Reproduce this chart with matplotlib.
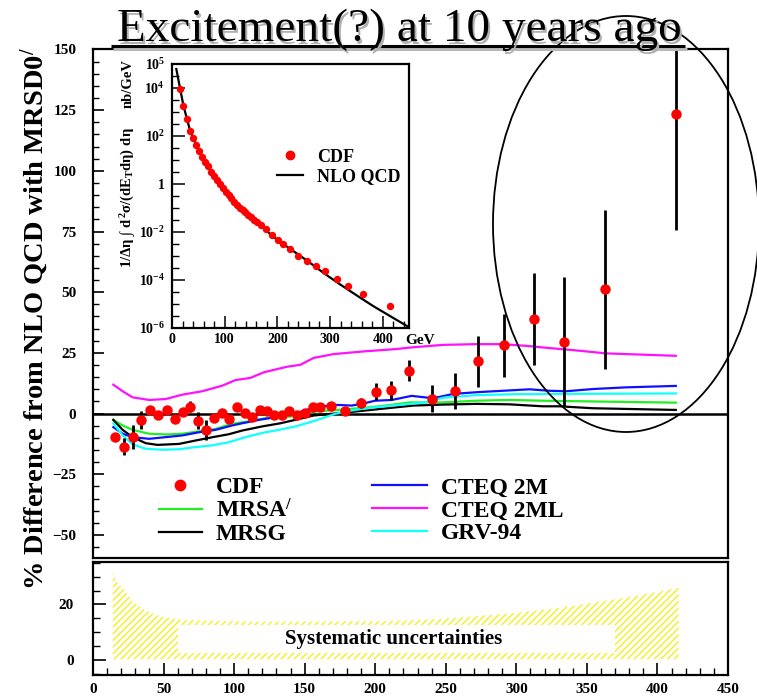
import numpy as np
import matplotlib.pyplot as plt
from matplotlib.patches import Ellipse, Rectangle
from matplotlib.ticker import MultipleLocator, FixedLocator, NullFormatter

plt.rcParams['font.family'] = ['Liberation Serif', 'DejaVu Serif']
plt.rcParams['font.weight'] = 'bold'
plt.rcParams['mathtext.fontset'] = 'custom'
plt.rcParams['mathtext.rm'] = 'Liberation Serif:bold'
plt.rcParams['mathtext.it'] = 'Liberation Serif:bold'
plt.rcParams['mathtext.bf'] = 'Liberation Serif:bold'

# CDF inclusive jet data: E_T (GeV), % difference from NLO QCD, stat. error
et = [15.5, 21.7, 28.0, 34.3, 40.4, 46.1, 52.1, 57.9, 63.6, 68.9, 74.7, 80.0,
      85.5, 91.1, 96.6, 101.9, 107.4, 112.5, 118.0, 123.3, 128.5, 133.9, 139.1,
      144.5, 149.9, 155.6, 161.0, 168.5, 178.6, 189.7, 200.5, 211.1, 224.0,
      240.1, 256.8, 272.8, 291.2, 312.6, 334.0, 362.8, 413.3]
diff = [-9.6, -13.6, -9.7, -2.6, 1.5, -0.5, 1.5, -2.2, 0.8, 2.9, -2.9, -6.7,
        -1.9, 0.1, -2.2, 2.6, 0.1, -1.5, 1.6, 1.0, -0.4, -0.4, 1.0,
        -0.4, 0.1, 2.9, 2.9, 3.0, 1.2, 4.4, 9.0, 9.6, 17.7,
        6.2, 9.4, 21.5, 28.2, 39.1, 29.6, 51.2, 123.5]
err = [1.5, 3.4, 5.0, 3.6, 1.0, 1.0, 1.0, 1.0, 1.2, 2.4, 3.4, 4.1,
       1.0, 1.0, 1.0, 1.0, 1.0, 1.0, 1.2, 1.2, 1.2, 1.2, 1.2,
       1.2, 1.2, 1.5, 1.5, 1.5, 1.5, 2.0, 3.4, 4.0, 4.2,
       5.7, 7.4, 10.5, 13.0, 19.0, 26.5, 32.7, 48.0]

# theory curves, % difference from MRSD0'
mrsa_x = [14.4, 21, 28, 39.8, 51.6, 63.3, 75.1, 86.9, 98.6, 110.4, 122.2, 140,
          157, 180, 203, 224.6, 248, 271.7, 295.2, 318.7, 342.3, 413]
mrsa_y = [-2.6, -4.9, -6.7, -8.3, -8.6, -8.3, -7.3, -6.3, -4.2, -3.2, -1.9, -1.2,
          0.8, 1.8, 3.0, 4.6, 4.6, 5.3, 5.6, 5.3, 5.1, 4.5]
mrsg_x = [14.4, 21, 28, 37.4, 45.7, 60.9, 72.7, 85, 96.3, 105.7, 119.8, 132.8,
          144, 156.3, 179.9, 203.4, 226.9, 248, 271.7, 295.2, 318.7, 330.5, 354, 413]
mrsg_y = [-2.6, -6.7, -9.7, -12.2, -12.9, -12.5, -11.1, -9.7, -8.5, -7.0, -5.3, -4.0,
          -2.5, -0.8, 0.5, 1.9, 3.3, 3.7, 4.0, 3.8, 3.0, 3.0, 2.2, 1.5]
cteq2m_x = [14.4, 21, 28, 39.8, 51.6, 63.3, 75.1, 86.9, 98.6, 105.7, 117.5, 129.2,
            143.4, 157.5, 171.6, 183.4, 190.5, 199.9, 211.7, 225.8, 241, 255.2,
            271.7, 290.5, 309.3, 323.4, 335.2, 354, 377.6, 413]
cteq2m_y = [-5.6, -8.3, -9.7, -10.4, -9.7, -9.0, -7.7, -6.7, -4.9, -4.0, -2.6, -1.5,
            0.1, 2.6, 3.6, 3.3, 4.0, 5.3, 5.6, 7.3, 6.3, 8.1,
            8.8, 9.4, 10.0, 9.4, 9.2, 10.1, 10.8, 11.4]
cteq2ml_x = [14.4, 21, 28, 39.8, 51.6, 63.3, 77.4, 91.6, 101, 111.6, 121, 137.5,
             146.9, 156.3, 170.4, 191.6, 215.2, 224.6, 248, 271.7, 290, 307,
             323.4, 344.6, 363.5, 413]
cteq2ml_y = [11.9, 9.2, 6.7, 5.6, 6.0, 7.8, 9.2, 11.5, 13.8, 14.7, 17.0, 19.3,
             20.1, 22.9, 24.5, 25.6, 26.6, 27.2, 28.3, 28.6, 28.6, 27.9,
             27.0, 25.9, 24.8, 23.8]
grv_x = [14.4, 21, 28, 37.4, 49.2, 60.9, 72.7, 84.5, 96.3, 108, 122.2, 129.2,
         143.4, 157.5, 171.6, 185.7, 199.9, 214, 235.2, 248, 271.7, 300, 330, 413]
grv_y = [-4.0, -9.0, -12.7, -14.5, -14.9, -14.7, -13.8, -13.1, -11.8, -9.7, -7.7, -7.0,
         -5.3, -2.9, -0.1, 1.5, 2.6, 3.4, 4.6, 6.5, 7.6, 8.0, 8.1, 8.3]

# inset: cross section (nb/GeV), log10 values
cdf_xs_log = [3.95, 3.27, 2.70, 2.22, 1.90, 1.62, 1.38, 1.14, 0.92, 0.73, 0.52, 0.35,
              0.18, 0.00, -0.18, -0.33, -0.47, -0.60, -0.73, -0.86, -0.98, -1.08, -1.18,
              -1.28, -1.38, -1.48, -1.58, -1.72, -1.88, -2.13, -2.33, -2.50, -2.69,
              -2.99, -3.22, -3.42, -3.64, -3.94, -4.26, -4.57, -5.10]
nlo_x = [8.2, 15.8, 22, 34.8, 47.5, 66.5, 85.4, 98, 129.7, 161.4, 193, 224.7,
         256.3, 288, 319.6, 351.3, 383, 414.6, 449.4]
nlo_log = [4.79, 3.93, 3.24, 2.19, 1.57, 0.81, 0.18, -0.24, -1.0, -1.6, -2.21, -2.71,
           -3.19, -3.71, -4.19, -4.65, -5.1, -5.51, -5.96]

# systematic uncertainty band (upper edge, %)
sys_x = [14, 17, 21.5, 28, 36.8, 45, 52, 64.4, 113.5, 205, 240, 267, 300, 328,
         350, 374, 400, 415]
sys_y = [31.7, 28, 25.7, 21, 18, 16.2, 15.3, 14.4, 13.8, 14, 14.6, 15.6, 17, 18.6,
         20.3, 22.2, 24.5, 26.1]

W, H = 757, 698
fig = plt.figure(figsize=(W / 100, H / 100), dpi=100)

def frac(left, top, right, bottom):
    return [left / W, 1 - bottom / H, (right - left) / W, (bottom - top) / H]

# ---- main panel ----
ax = fig.add_axes(frac(93, 49, 728, 558))
ax.set_xlim(0, 450)
ax.set_ylim(-59.5, 150.2)
ax.axhline(0, color='black', lw=1.8, zorder=2)
curves = [(mrsa_x, mrsa_y, '#22ee22', "MRSA$^{/}$"),
          (mrsg_x, mrsg_y, 'black', 'MRSG'),
          (cteq2m_x, cteq2m_y, '#1010ff', 'CTEQ 2M'),
          (cteq2ml_x, cteq2ml_y, '#ff10ff', 'CTEQ 2ML'),
          (grv_x, grv_y, '#10ffff', 'GRV-94')]
lines = {}
for cx, cy, col, lab in curves:
    lines[lab], = ax.plot(cx, cy, color=col, lw=1.6, zorder=3)
ax.errorbar(et, diff, yerr=err, fmt='none', ecolor='black', elinewidth=2.0,
            capsize=0, zorder=4)
pts, = ax.plot(et, diff, 'o', color='#ff0000', ms=6.5, mec='#ff0000', zorder=5)

ax.set_xticks([])
ax.yaxis.set_major_locator(MultipleLocator(25))
ax.yaxis.set_minor_locator(MultipleLocator(5))
ax.tick_params(axis='y', which='major', direction='in', length=8, width=1.2,
               labelsize=11, pad=12)
ax.tick_params(axis='y', which='minor', direction='in', length=4, width=1.0)
for s in ax.spines.values():
    s.set_linewidth(1.6)

leg1 = ax.legend([pts, lines["MRSA$^{/}$"], lines['MRSG']],
                 ['CDF', "MRSA$^{/}$", 'MRSG'],
                 loc='center left', bbox_to_anchor=(0.104, 0.093), frameon=False,
                 fontsize=17, handlelength=1.8, handletextpad=0.6,
                 labelspacing=0.05, borderpad=0, borderaxespad=0, markerscale=1.15)
ax.add_artist(leg1)
ax.legend([lines['CTEQ 2M'], lines['CTEQ 2ML'], lines['GRV-94']],
          ['CTEQ 2M', 'CTEQ 2ML', 'GRV-94'],
          loc='center left', bbox_to_anchor=(0.44, 0.093), frameon=False,
          fontsize=17, handlelength=2.3, handletextpad=0.6,
          labelspacing=0.05, borderpad=0, borderaxespad=0)

fig.text(35 / W, 1 - 318 / H, "% Difference from NLO QCD with MRSD0$^{/}$",
         rotation=90, ha='center', va='center', fontsize=20.5)

# ---- inset: absolute cross section ----
iax = fig.add_axes(frac(172, 64, 409, 328))
iax.set_yscale('log')
iax.set_xlim(0, 450)
iax.set_ylim(1e-6, 1e5)
nlo_line, = iax.plot(nlo_x, 10.0 ** np.array(nlo_log), color='black', lw=1.6)
cdf_pts, = iax.plot(et, 10.0 ** np.array(cdf_xs_log), 'o', color='#ff0000',
                    ms=4.3, mec='#ff0000')
ymaj = [1e-6, 1e-4, 1e-2, 1, 1e2, 1e4, 1e5]
iax.yaxis.set_major_locator(FixedLocator(ymaj))
iax.set_yticklabels([r'$10^{-6}$', r'$10^{-4}$', r'$10^{-2}$', '1',
                     r'$10^{2}$', r'$10^{4}$', r'$10^{5}$'])
iax.yaxis.set_minor_locator(FixedLocator(
    [10 ** (k / 2) for k in range(-12, 11) if 10 ** (k / 2) not in ymaj]))
iax.yaxis.set_minor_formatter(NullFormatter())
iax.xaxis.set_major_locator(MultipleLocator(100))
iax.xaxis.set_minor_locator(MultipleLocator(20))
iax.tick_params(which='major', direction='in', length=9, width=1.1, labelsize=10)
iax.tick_params(which='minor', direction='in', length=5, width=1.0)
iax.tick_params(axis='y', which='both', pad=5)
for s in iax.spines.values():
    s.set_linewidth(1.6)
iax.legend([cdf_pts, nlo_line], ['CDF', 'NLO QCD'], loc='center left',
           bbox_to_anchor=(0.443, 0.61), frameon=False, fontsize=13,
           handlelength=1.45, handletextpad=0.75, labelspacing=0.15,
           borderpad=0, borderaxespad=0, markerscale=1.4)
fig.text(420 / W, 1 - 341 / H, 'GeV', ha='center', va='center', fontsize=11)
fig.text(128 / W, 1 - 198 / H,
         r'$1/\Delta\eta\ \int\ d^2\sigma/(dE_T d\eta)\ d\eta$',
         rotation=90, ha='center', va='center', fontsize=10.5)
fig.text(128 / W, 1 - 84 / H, 'nb/GeV', rotation=90, ha='center', va='center',
         fontsize=10.5)

# ---- lower panel: systematic uncertainties ----
lax = fig.add_axes(frac(93, 562, 728, 675))
lax.set_xlim(0, 450)
lax.set_ylim(-5.4, 35.3)
plt.rcParams['hatch.linewidth'] = 1.0
lax.fill_between(sys_x, 0.3, sys_y, facecolor='none', edgecolor='#f4f020',
                 hatch='/////', linewidth=0)
lax.add_patch(Rectangle((60, 2.6), 310, 10.0, facecolor='white', edgecolor='none',
                        zorder=3))
lax.text(213, 7.4, 'Systematic uncertainties', ha='center', va='center',
         fontsize=15, zorder=4)
lax.xaxis.set_major_locator(MultipleLocator(50))
lax.xaxis.set_minor_locator(MultipleLocator(10))
lax.yaxis.set_major_locator(FixedLocator([0, 20]))
lax.yaxis.set_minor_locator(MultipleLocator(5))
lax.tick_params(which='major', direction='in', length=9, width=1.2, labelsize=11)
lax.tick_params(which='minor', direction='in', length=5, width=1.0)
lax.tick_params(axis='y', pad=14)
lax.tick_params(axis='x', pad=6)
for s in lax.spines.values():
    s.set_linewidth(1.6)

# ---- overlay: headline and ring around the high-E_T points ----
oax = fig.add_axes([0, 0, 1, 1], zorder=10)
oax.set_xlim(0, W)
oax.set_ylim(H, 0)
oax.axis('off')
oax.patch.set_alpha(0)
title = 'Excitement(?) at 10 years ago'
oax.text(401.5, 43.5, title, ha='center', va='baseline', fontsize=34,
         fontweight='normal', color='#b0b0b0')
oax.text(399, 41, title, ha='center', va='baseline', fontsize=34,
         fontweight='normal', color='black')
oax.plot([113, 687], [48.5, 48.5], color='#b8b8b8', lw=2.2, solid_capstyle='butt')
oax.plot([111, 685], [46, 46], color='black', lw=2.2, solid_capstyle='butt')
oax.add_patch(Ellipse((626, 224), 266, 416, fill=False, ec='black', lw=1.3))

fig.savefig('out.png', dpi=100)
